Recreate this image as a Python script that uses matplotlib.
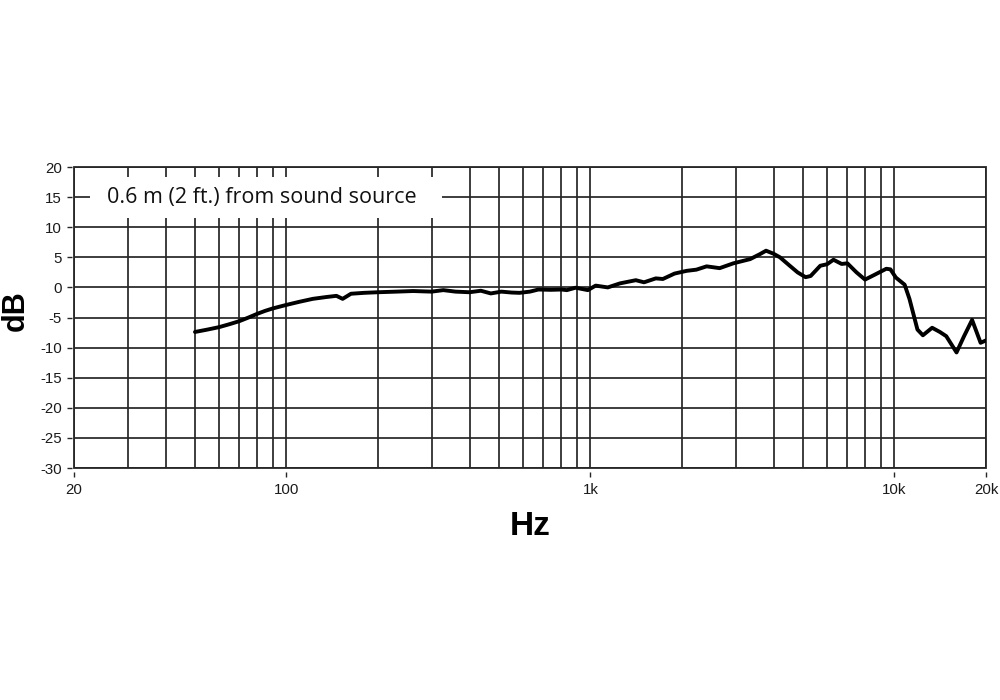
import matplotlib
matplotlib.use("Agg")
import matplotlib.pyplot as plt
from matplotlib.patches import Rectangle
from matplotlib.ticker import FixedLocator, NullFormatter

freq_hz = [50, 55, 60, 65, 70, 75, 80, 85, 90, 100, 110, 122, 135, 146, 153, 163,
           180, 200, 230, 261, 300, 328, 360, 400, 436, 470, 509, 550, 584, 632,
           674, 740, 803, 836, 893, 947, 980, 1040, 1140, 1250, 1410, 1500, 1640,
           1730, 1890, 2070, 2230, 2410, 2660, 2950, 3350, 3600, 3780, 4000, 4200,
           4500, 4800, 5100, 5300, 5700, 6000, 6300, 6700, 7000, 7500, 8000, 8600,
           9400, 9700, 10100, 10800, 11200, 11900, 12400, 13300, 14100, 14800,
           16000, 16900, 18000, 19200, 20000]
response_db = [-7.4, -7.0, -6.6, -6.1, -5.6, -5.0, -4.4, -3.9, -3.5, -2.9, -2.4, -1.9,
               -1.6, -1.4, -1.9, -1.05, -0.9, -0.8, -0.7, -0.6, -0.7, -0.45, -0.7,
               -0.8, -0.55, -1.0, -0.7, -0.85, -0.9, -0.7, -0.35, -0.4, -0.35, -0.45,
               -0.05, -0.3, -0.45, 0.3, 0.0, 0.67, 1.2, 0.85, 1.5, 1.4, 2.3, 2.75,
               2.95, 3.5, 3.2, 4.0, 4.7, 5.5, 6.1, 5.6, 5.0, 3.7, 2.5, 1.7, 1.9, 3.6,
               3.85, 4.6, 3.9, 4.0, 2.5, 1.3, 2.1, 3.1, 3.0, 1.65, 0.45, -1.9, -7.0,
               -7.95, -6.7, -7.4, -8.1, -10.8, -8.2, -5.4, -9.2, -8.8]

x_major = [20, 100, 1000, 10000, 20000]
x_major_labels = ["20", "100", "1k", "10k", "20k"]
x_minor = [30, 40, 50, 60, 70, 80, 90, 200, 300, 400, 500, 600, 700, 800, 900,
           2000, 3000, 4000, 5000, 6000, 7000, 8000, 9000]
y_ticks = [20, 15, 10, 5, 0, -5, -10, -15, -20, -25, -30]
note_text = "0.6 m (2 ft.) from sound source"
x_label = "Hz"
y_label = "dB"

grid_color = "#262626"

fig = plt.figure(figsize=(10, 7), dpi=100)
ax = fig.add_axes([0.074, 0.3314, 0.912, 0.43])
ax.set_xscale("log")
ax.set_xlim(20, 20000)
ax.set_ylim(-30, 20)

ax.xaxis.set_major_locator(FixedLocator(x_major))
ax.xaxis.set_minor_locator(FixedLocator(x_minor))
ax.xaxis.set_minor_formatter(NullFormatter())
ax.set_xticklabels(x_major_labels)
ax.set_yticks(y_ticks)
ax.set_yticklabels([str(v) for v in y_ticks])

for sp in ax.spines.values():
    sp.set_visible(False)
ax.spines["left"].set_position(("outward", 1.5))
ax.spines["bottom"].set_position(("outward", 3))

ax.patch.set_edgecolor(grid_color)
ax.patch.set_linewidth(1.3)

ax.set_axisbelow(True)
ax.grid(True, which="both", axis="x", color=grid_color, linewidth=1.25)
ax.grid(True, which="major", axis="y", color=grid_color, linewidth=1.25)

ax.tick_params(axis="both", which="major", direction="out", length=3.6, width=1.0,
               color=grid_color, labelsize=10.8, labelcolor="#1a1a1a")
ax.tick_params(axis="x", which="major", pad=4)
ax.tick_params(axis="y", which="major", pad=3.5)
ax.tick_params(axis="x", which="minor", length=0)
for lab in ax.get_xticklabels() + ax.get_yticklabels():
    lab.set_family("Liberation Sans")

box = Rectangle((0.0175, 0.8306), 0.386, 0.1362, transform=ax.transAxes,
                facecolor="white", edgecolor="none", zorder=1.5)
ax.add_patch(box)
ax.text(0.0359, 0.9, note_text, transform=ax.transAxes, ha="left", va="center",
        fontsize=15.5, family="Open Sans", color="#111111", zorder=3)

ax.plot(freq_hz, response_db, color="black", linewidth=2.8, zorder=2.5,
        solid_joinstyle="round", solid_capstyle="round")

fig.text(0.530, 0.248, x_label, ha="center", va="center", fontsize=24,
         fontweight="bold", family="Liberation Sans")
fig.text(0.016, 0.556, y_label, ha="center", va="center", rotation=90, fontsize=22,
         fontweight="bold", family="Liberation Sans")

fig.savefig("out.png", dpi=100)
